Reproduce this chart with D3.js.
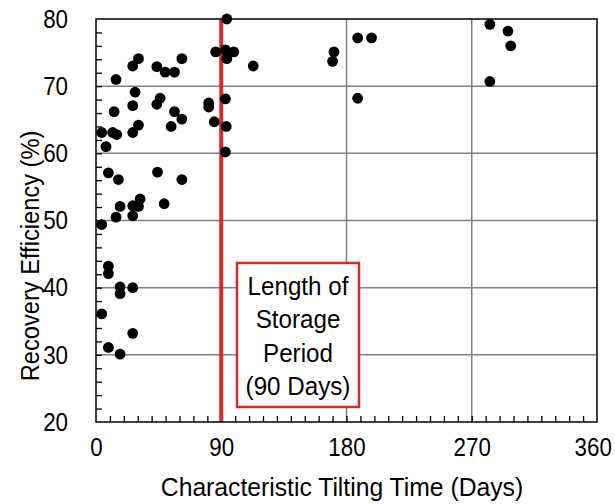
<!DOCTYPE html>
<html>
<head>
<meta charset="utf-8">
<script src="https://cdn.jsdelivr.net/npm/d3@7"></script>
<style>
  body { margin: 0; background: #fff; }
  text { font-family: "Liberation Sans", Arial, sans-serif; fill: #000; }
</style>
</head>
<body>
<svg width="615" height="504"></svg>
<script>
// characteristic tilting time (days) and recovery efficiency (%)
const tiltDays = [
  94, 86, 93, 99, 94, 113, 171, 170, 188, 198, 188, 283, 296, 298, 283,
  30.5, 26.4, 43.7, 49.7, 56.4, 61.7, 14.4, 28.1, 26.4, 46.1, 43.7, 56.4, 61.7, 54,
  81, 81, 85, 93, 93.6, 93, 13, 30.5, 26.4, 4.1, 12, 14.9, 7.2,
  8.9, 16.1, 44.2, 61.7, 17.3, 26.4, 31.7, 30.5, 49, 14.4, 26.4, 4.1,
  8.9, 8.9, 17.3, 17.3, 26.4, 4.1, 26.4, 8.9, 17.3
];
const recovery = [
  80, 75.1, 75.4, 75.1, 74.1, 73, 75.1, 73.7, 77.2, 77.2, 68.2, 79.2, 78.2, 76, 70.7,
  74.1, 73, 72.9, 72.1, 72.1, 74.1, 71, 69.1, 67.1, 68.2, 67.3, 66.2, 65.1, 64,
  67.5, 66.9, 64.7, 68.1, 64, 60.2, 66.2, 64.2, 63.1, 63.1, 63.1, 62.8, 61,
  57.1, 56.1, 57.2, 56.1, 52.1, 52.2, 53.2, 52.1, 52.5, 50.5, 50.7, 49.4,
  43.2, 42.1, 40.1, 39.1, 40, 36.1, 33.2, 31.1, 30.1
];
const data = tiltDays.map((d, i) => ({ days: d, eff: recovery[i] }));

const xTicks = [0, 90, 180, 270, 360];
const yTicks = [20, 30, 40, 50, 60, 70, 80];
const storageDays = 90;
const noteLines = ['Length of', 'Storage', 'Period', '(90 Days)'];

const margin = { top: 19, right: 18, bottom: 82, left: 96 };
const width = 615 - margin.left - margin.right;
const height = 504 - margin.top - margin.bottom;

const red = '#d42a2a';

// the source font is a bit narrower than Liberation Sans
const squeeze = (sel, f) => sel.each(function () {
  const len = this.getComputedTextLength();
  d3.select(this).attr('textLength', len * f).attr('lengthAdjust', 'spacingAndGlyphs');
});

const svg = d3.select('svg');
const g = svg.append('g')
  .attr('transform', `translate(${margin.left},${margin.top})`);

const x = d3.scaleLinear().domain([0, 360]).range([0, width]);
const y = d3.scaleLinear().domain([20, 80]).range([height, 0]);

// grid lines
g.append('g').selectAll('line')
  .data(yTicks.slice(1, -1))
  .join('line')
  .attr('x1', 0).attr('x2', width)
  .attr('y1', d => y(d)).attr('y2', d => y(d))
  .attr('stroke', '#808080').attr('stroke-width', 1.5);

g.append('g').selectAll('line')
  .data(xTicks.slice(1, -1))
  .join('line')
  .attr('y1', 0).attr('y2', height)
  .attr('x1', d => x(d)).attr('x2', d => x(d))
  .attr('stroke', '#808080').attr('stroke-width', 1.5);

// minor ticks pointing inward
g.append('g')
  .call(d3.axisBottom(x).tickValues(d3.range(10, 360, 10)).tickSize(-6).tickFormat(''))
  .attr('transform', `translate(0,${height})`)
  .call(a => a.select('.domain').remove())
  .selectAll('line').attr('stroke-width', 1.3);

g.append('g')
  .call(d3.axisLeft(y).tickValues(d3.range(22, 80, 2)).tickSize(-6).tickFormat(''))
  .call(a => a.select('.domain').remove())
  .selectAll('line').attr('stroke-width', 1.3);

// storage period line
g.append('line')
  .attr('x1', x(storageDays)).attr('x2', x(storageDays))
  .attr('y1', 0).attr('y2', height)
  .attr('stroke', red).attr('stroke-width', 4);

// frame
g.append('rect')
  .attr('width', width).attr('height', height)
  .attr('fill', 'none').attr('stroke', '#000').attr('stroke-width', 1.5);

// tick labels
const xAxis = g.append('g')
  .attr('transform', `translate(0,${height})`)
  .call(d3.axisBottom(x).tickValues(xTicks).tickSize(0).tickPadding(16));
xAxis.select('.domain').remove();
xAxis.selectAll('text').style('font-size', '26px')
  .style('font-family', '"Liberation Sans", Arial, sans-serif')
  .attr('x', d => d === 360 ? -5 : 0)
  .attr('transform', 'scale(0.86,1)');

const yAxis = g.append('g')
  .call(d3.axisLeft(y).tickValues(yTicks).tickSize(0).tickPadding(28));
yAxis.select('.domain').remove();
yAxis.selectAll('text').style('font-size', '26px')
  .style('font-family', '"Liberation Sans", Arial, sans-serif')
  .call(squeeze, 0.86);

// points
g.append('g').selectAll('circle')
  .data(data)
  .join('circle')
  .attr('cx', d => x(d.days))
  .attr('cy', d => y(d.eff))
  .attr('r', 5.4)
  .attr('fill', '#000');

// annotation box
const bx = 237 - margin.left, by = 263 - margin.top;
g.append('rect')
  .attr('x', bx).attr('y', by)
  .attr('width', 122).attr('height', 144)
  .attr('fill', '#fff').attr('stroke', red).attr('stroke-width', 2.5);

g.append('g')
  .selectAll('text')
  .data(noteLines)
  .join('text')
  .attr('text-anchor', 'middle')
  .style('font-size', '26px')
  .attr('x', bx + 61)
  .attr('y', (d, i) => by + 31.5 + i * 33.5)
  .text(d => d)
  .call(squeeze, 0.93);

// axis titles
svg.append('text')
  .attr('x', 342)
  .attr('y', 496)
  .attr('text-anchor', 'middle')
  .style('font-size', '26px')
  .text('Characteristic Tilting Time (Days)')
  .call(squeeze, 0.95);

svg.append('text')
  .attr('transform', 'translate(39,256) rotate(-90)')
  .attr('text-anchor', 'middle')
  .style('font-size', '26px')
  .text('Recovery Efficiency (%)')
  .call(squeeze, 0.91);
</script>
</body>
</html>
